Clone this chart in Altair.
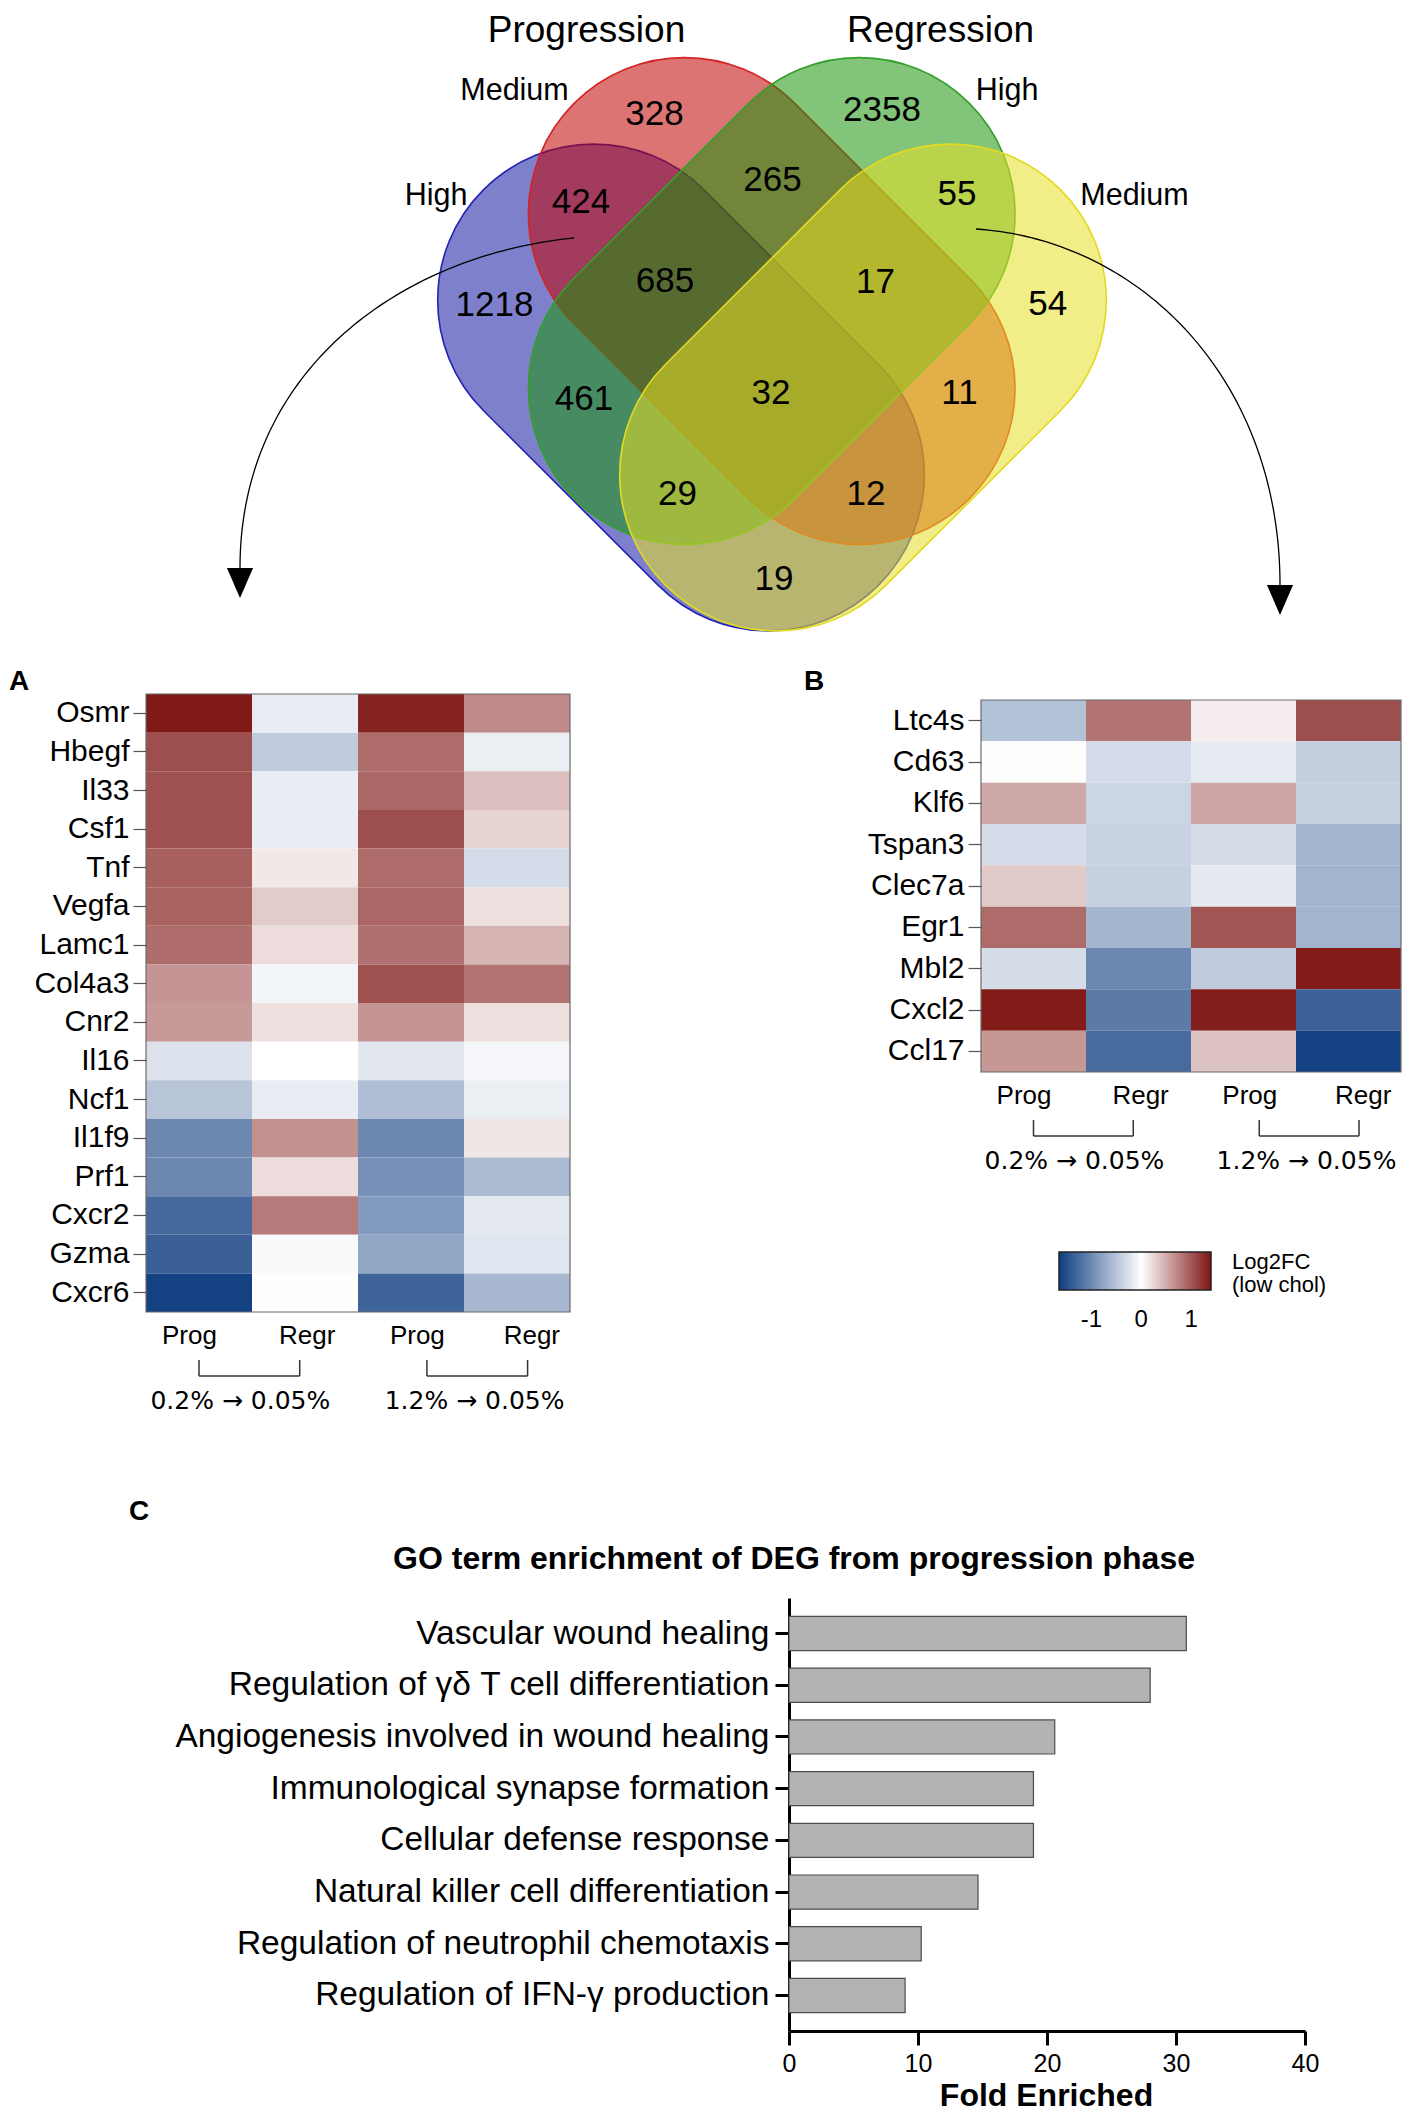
import numpy as np
import pandas as pd
import altair as alt

# ============================ DATA ============================
# Venn diagram (DEG counts per region)
venn_counts = [328, 2358, 424, 265, 55, 1218, 685, 17, 54, 461, 32, 11, 29, 12, 19]
venn_set_labels = ["High", "Medium", "High", "Medium"]
venn_group_titles = ["Progression", "Regression"]

# Heatmap A (Log2FC, low chol)
genes_a = ["Osmr", "Hbegf", "Il33", "Csf1", "Tnf", "Vegfa", "Lamc1", "Col4a3", "Cnr2",
           "Il16", "Ncf1", "Il1f9", "Prf1", "Cxcr2", "Gzma", "Cxcr6"]
a_prog_02 = [1.38, 1.06, 1.05, 1.05, 0.96, 0.94, 0.88, 0.64, 0.61, -0.25, -0.49, -1.01, -1.01, -1.27, -1.36, -1.62]
a_regr_02 = [-0.16, -0.43, -0.15, -0.15, 0.14, 0.31, 0.21, -0.08, 0.19, 0.0, -0.15, 0.66, 0.20, 0.80, -0.05, -0.01]
a_prog_12 = [1.32, 0.88, 0.92, 1.06, 0.89, 0.92, 0.86, 1.05, 0.64, -0.20, -0.55, -1.01, -0.94, -0.85, -0.75, -1.32]
a_regr_12 = [0.70, -0.14, 0.38, 0.26, -0.30, 0.19, 0.45, 0.84, 0.19, -0.07, -0.14, 0.15, -0.58, -0.18, -0.21, -0.60]

# Heatmap B
genes_b = ["Ltc4s", "Cd63", "Klf6", "Tspan3", "Clec7a", "Egr1", "Mbl2", "Cxcl2", "Ccl17"]
b_prog_02 = [-0.52, 0.01, 0.52, -0.30, 0.32, 0.89, -0.29, 1.37, 0.63]
b_regr_02 = [0.83, -0.30, -0.36, -0.38, -0.40, -0.62, -1.01, -1.13, -1.26]
b_prog_12 = [0.11, -0.17, 0.55, -0.29, -0.18, 1.02, -0.43, 1.36, 0.36]
b_regr_12 = [1.06, -0.41, -0.40, -0.64, -0.64, -0.64, 1.37, -1.34, -1.62]

col_labels = ["Prog", "Regr", "Prog", "Regr"]
diet_labels = ["0.2% \u2192 0.05%", "1.2% \u2192 0.05%"]

# Colour scale / legend
color_domain = [-1.65, 0, 1.4]
legend_values = [-1, 0, 1]
legend_title = ["Log2FC", "(low chol)"]

# GO enrichment
go_terms = ["Vascular wound healing",
            "Regulation of \u03b3\u03b4 T cell differentiation",
            "Angiogenesis involved in wound healing",
            "Immunological synapse formation",
            "Cellular defense response",
            "Natural killer cell differentiation",
            "Regulation of neutrophil chemotaxis",
            "Regulation of IFN-\u03b3 production"]
go_fold = [30.8, 28.0, 20.6, 18.95, 18.95, 14.65, 10.25, 9.0]
go_ticks = [0, 10, 20, 30, 40]
go_title = "GO term enrichment of DEG from progression phase"
go_xtitle = "Fold Enriched"
panel_letters = ["A", "B", "C"]

# ============================ LAYOUT (canvas pixels) ============================
W, H = 1392, 2104
FONT = "Liberation Sans"

# Venn geometry
set_cx = [672, 762.75, 762.75, 854]          # prog-high, prog-medium, regr-high, regr-medium
set_cy = [379.5, 293, 293, 379.5]
set_angle = [45, 45, 135, 135]
set_fill = ["#1618a2", "#bf0202", "#1a940d", "#e7e025"]
set_stroke = ["#2424b4", "#d42424", "#33a02a", "#e2da22"]
CAP_R, CAP_HALF = 156.0, 123.5
set_label_x = [427, 505.5, 998, 1125.5]
set_label_y = [197, 92, 92, 197]
group_x = [577.5, 931.5]
group_y = [34, 34]
count_x = [645.5, 873, 572, 763.5, 948, 485.5, 656, 866.5, 1038.7, 575, 762, 950.5, 668.5, 857, 765]
count_y = [106, 102, 194, 172, 186, 297, 273, 274, 295.7, 390.6, 385, 385, 485.5, 485.5, 571]
arrow_ctrl = [[(565, 230), (392, 247), (231, 362), (231, 560)],
              [(967, 221), (1132, 232), (1271, 372), (1271, 577)]]
head_x = [231, 1271]
head_y = [575, 592]

# Heatmaps
A_X, A_Y = [137, 561], [686, 1304]
B_X, B_Y = [972, 1392], [692, 1064]
col_label_pos = [0.41, 1.52, 2.56, 3.64]
bracket_spans = [(0.5, 1.45), (2.65, 3.6)]
diet_pos = [0.89, 3.1]

# Legend
LEG_X, LEG_Y = 1050, 1244

# Bar chart
BAR_X, BAR_Y = [780, 1296], [1590, 2023]

letter_x = [10, 805, 130]
letter_y = [674, 674, 1504]

# ============================ HELPERS ============================
PX = alt.Scale(domain=[0, W], range=[0, W], nice=False, zero=False, padding=0)
PY = alt.Scale(domain=[0, H], range=[0, H], nice=False, zero=False, padding=0)


def px(f):
    return alt.X(f"{f}:Q", scale=PX, axis=None)


def py(f):
    return alt.Y(f"{f}:Q", scale=PY, axis=None)


def fmt(v):
    return f"{v:.4f}"


a = CAP_HALF / (CAP_HALF + CAP_R)
b = CAP_R / (CAP_HALF + CAP_R)
k = 0.5523
CAPSULE = (
    f"M{fmt(-a)},{fmt(-b)}L{fmt(a)},{fmt(-b)}"
    f"C{fmt(a + k * b)},{fmt(-b)},{fmt(a + b)},{fmt(-k * b)},{fmt(a + b)},0"
    f"C{fmt(a + b)},{fmt(k * b)},{fmt(a + k * b)},{fmt(b)},{fmt(a)},{fmt(b)}"
    f"L{fmt(-a)},{fmt(b)}"
    f"C{fmt(-a - k * b)},{fmt(b)},{fmt(-a - b)},{fmt(k * b)},{fmt(-a - b)},0"
    f"C{fmt(-a - b)},{fmt(-k * b)},{fmt(-a - k * b)},{fmt(-b)},{fmt(-a)},{fmt(-b)}Z"
)
CAP_SIZE = (2 * (CAP_HALF + CAP_R)) ** 2
TRI = "M-0.87,-1L0.87,-1L0,1Z"

CSCALE = alt.Scale(domain=color_domain, range=["#0f3d80", "#ffffff", "#7e1714"], interpolate="rgb")

# ============================ VENN CANVAS ============================
venn_df = pd.DataFrame({"x": set_cx, "y": set_cy, "angle": set_angle,
                        "fill": set_fill, "stroke": set_stroke})
venn_shapes = alt.Chart(venn_df).mark_point(
    shape=CAPSULE, size=CAP_SIZE, filled=True, opacity=1,
    fillOpacity=0.55, strokeOpacity=1, strokeWidth=1.6
).encode(
    x=px("x"), y=py("y"),
    angle=alt.Angle("angle:Q", scale=None),
    fill=alt.Fill("fill:N", scale=None),
    stroke=alt.Stroke("stroke:N", scale=None),
)

arrow_rows = []
for ai, ctrl in enumerate(arrow_ctrl):
    p = np.array(ctrl, dtype=float)
    for i, t in enumerate(np.linspace(0, 1, 80)):
        pt = ((1 - t) ** 3) * p[0] + 3 * ((1 - t) ** 2) * t * p[1] + 3 * (1 - t) * t ** 2 * p[2] + t ** 3 * p[3]
        arrow_rows.append({"arrow": ai, "i": i, "x": pt[0], "y": pt[1]})
arrows = alt.Chart(pd.DataFrame(arrow_rows)).mark_line(color="black", strokeWidth=1.3).encode(
    x=px("x"), y=py("y"), detail="arrow:N", order="i:Q")
heads = alt.Chart(pd.DataFrame({"x": head_x, "y": head_y})).mark_point(
    shape=TRI, size=900, filled=True, fill="black", opacity=1, strokeWidth=0
).encode(x=px("x"), y=py("y"))

counts_text = alt.Chart(pd.DataFrame({"n": venn_counts, "x": count_x, "y": count_y})).mark_text(
    fontSize=35, align="center", baseline="middle", color="black"
).encode(x=px("x"), y=py("y"), text="n:N")
set_text = alt.Chart(pd.DataFrame({"t": venn_set_labels, "x": set_label_x, "y": set_label_y})).mark_text(
    fontSize=30.5, align="center", baseline="alphabetic", color="black"
).encode(x=px("x"), y=py("y"), text="t:N")
group_text = alt.Chart(pd.DataFrame({"t": venn_group_titles, "x": group_x, "y": group_y})).mark_text(
    fontSize=37, align="center", baseline="alphabetic", color="black"
).encode(x=px("x"), y=py("y"), text="t:N")
letters = alt.Chart(pd.DataFrame({"t": panel_letters, "x": letter_x, "y": letter_y})).mark_text(
    fontSize=28, fontWeight="bold", align="center", baseline="middle", color="black"
).encode(x=px("x"), y=py("y"), text="t:N")
title_text = alt.Chart(pd.DataFrame({"t": [go_title], "x": [785], "y": [1551]})).mark_text(
    fontSize=32, fontWeight="bold", align="center", baseline="middle", color="black"
).encode(x=px("x"), y=py("y"), text="t:N")

canvas = alt.layer(venn_shapes, arrows, heads, counts_text, set_text, group_text, letters, title_text)

# ============================ HEATMAPS ============================
heat_legend = alt.Legend(
    orient="none", legendX=LEG_X, legendY=LEG_Y, direction="horizontal",
    gradientLength=152, gradientThickness=38, gradientStrokeColor="#222222",
    gradientStrokeWidth=1.5, values=legend_values, labelExpr="datum.value",
    labelFontSize=24, labelOffset=18,
    labelColor="black", title=legend_title, titleFontSize=22, titleFontWeight="normal",
    titleOrient="right", titlePadding=20, titleLineHeight=23, titleColor="black",
    titleBaseline="top", titleAnchor="start", padding=0,
)


def heat_panel(genes, columns, xr, yr):
    rows = []
    for j, vals in enumerate(columns):
        for g, v in zip(genes, vals):
            rows.append({"gene": g, "c0": j, "c1": j + 1, "lfc": v})
    cells_df = pd.DataFrame(rows)
    xs = alt.Scale(domain=[0, len(columns)], range=xr, nice=False, zero=False, padding=0)
    ys = alt.Scale(domain=genes, range=yr, paddingInner=0, paddingOuter=0)
    bottom = yr[1]
    cells = alt.Chart(cells_df).mark_rect().encode(
        x=alt.X("c0:Q", scale=xs, axis=None),
        x2="c1:Q",
        y=alt.Y("gene:N", sort=genes, scale=ys, axis=alt.Axis(
            orient="left", offset=-xr[0], domain=False, ticks=True, tickSize=13,
            tickColor="#555555", tickWidth=1.2, grid=False, labelFontSize=30,
            labelColor="black", labelPadding=4, labelLimit=0, title=None)),
        color=alt.Color("lfc:Q", scale=CSCALE, legend=heat_legend),
    )
    frame = alt.Chart(pd.DataFrame({"k": [0]})).mark_rect(
        fillOpacity=0, stroke="#6b6b6b", strokeWidth=1.2
    ).encode(x=alt.value(xr[0]), x2=alt.value(xr[1]), y=alt.value(yr[0]), y2=alt.value(yr[1]))
    cols = alt.Chart(pd.DataFrame({"t": col_labels, "x": col_label_pos})).mark_text(
        fontSize=26, align="center", baseline="middle", color="black"
    ).encode(x=alt.X("x:Q", scale=xs, axis=None), y=alt.value(bottom + 24), text="t:N")
    br_h = pd.DataFrame({"b0": [s[0] for s in bracket_spans], "b1": [s[1] for s in bracket_spans]})
    br_v = pd.DataFrame({"b": [v for s in bracket_spans for v in s]})
    h_rule = alt.Chart(br_h).mark_rule(color="#333333", strokeWidth=1.5).encode(
        x=alt.X("b0:Q", scale=xs, axis=None), x2="b1:Q", y=alt.value(bottom + 64))
    v_rule = alt.Chart(br_v).mark_rule(color="#333333", strokeWidth=1.5).encode(
        x=alt.X("b:Q", scale=xs, axis=None), y=alt.value(bottom + 48), y2=alt.value(bottom + 64))
    diet = alt.Chart(pd.DataFrame({"t": diet_labels, "x": diet_pos})).mark_text(
        fontSize=25, font="DejaVu Sans", align="center", baseline="middle", color="black"
    ).encode(x=alt.X("x:Q", scale=xs, axis=None), y=alt.value(bottom + 89), text="t:N")
    return alt.layer(cells, frame, cols, h_rule, v_rule, diet)


heat_a = heat_panel(genes_a, [a_prog_02, a_regr_02, a_prog_12, a_regr_12], A_X, A_Y)
heat_b = heat_panel(genes_b, [b_prog_02, b_regr_02, b_prog_12, b_regr_12], B_X, B_Y)

# ============================ BAR CHART ============================
go_df = pd.DataFrame({"term": go_terms, "fold": go_fold})
bar = alt.Chart(go_df).mark_bar(fill="#b3b3b3", stroke="#4d4d4d", strokeWidth=1.2).encode(
    x=alt.X("fold:Q",
            scale=alt.Scale(domain=[0, 40], range=BAR_X, nice=False, zero=True, padding=0),
            axis=alt.Axis(orient="bottom", offset=BAR_Y[1] - H, values=go_ticks,
                          domainColor="black", domainWidth=3, tickColor="black", tickWidth=3,
                          tickSize=14, labelFontSize=25, labelColor="black", labelPadding=6,
                          labelFlush=False, grid=False, title=go_xtitle, titleFontSize=32,
                          titleFontWeight="bold", titleColor="black", titleX=1037, titleY=74,
                          titleBaseline="alphabetic", titleAlign="center")),
    y=alt.Y("term:N", sort=go_terms,
            scale=alt.Scale(range=BAR_Y, paddingInner=0.34, paddingOuter=0.357),
            axis=alt.Axis(orient="left", offset=-BAR_X[0], domainColor="black", domainWidth=3,
                          tickColor="black", tickWidth=3, tickSize=14, labelFontSize=33.5,
                          labelColor="black", labelPadding=6, labelLimit=0, grid=False, title=None)),
)

# ============================ COMPOSE ============================
chart = alt.layer(canvas, heat_a, heat_b, bar).resolve_scale(
    x="independent", y="independent", color="shared"
).resolve_axis(
    x="independent", y="independent"
).resolve_legend(
    color="shared"
).properties(
    width=W, height=H, padding=0, background="white"
).configure(font=FONT).configure_view(stroke=None)

chart.save("out.html", embed_options={"renderer": "svg", "actions": False})
